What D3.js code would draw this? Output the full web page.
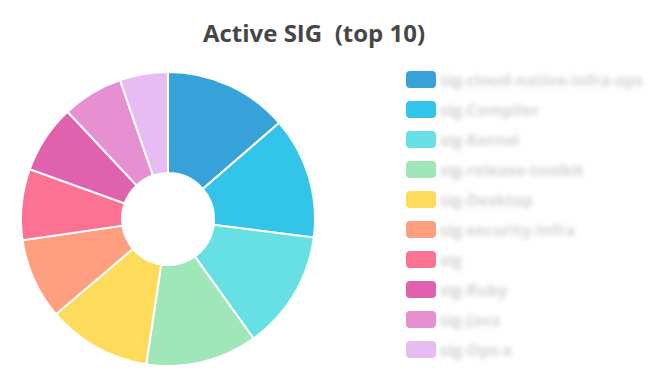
<!DOCTYPE html>
<html>
<head>
<meta charset="utf-8">
<script src="https://cdn.jsdelivr.net/npm/d3@7"></script>
<style>
  html, body { margin: 0; padding: 0; background: #fff; }
  svg { display: block; }
</style>
</head>
<body>
<svg id="chart" width="652" height="385"></svg>
<script>
// values
const labels = ["sig-cloud-native-infra-ops", "sig-Compiler", "sig-Kernel", "sig-release-toolkit", "sig-Desktop", "sig-security-infra", "sig", "sig-Ruby", "sig-Java", "sig-Ops-x"];
const values = [49, 48, 47, 44, 41, 32, 28, 27, 24, 19];
const colors = ["#37a2da", "#32c5e9", "#67e0e3", "#9fe6b8", "#ffdb5c", "#ff9f7f", "#fb7293", "#e062ae", "#e690d1", "#e7bcf3"];
const title  = "Active SIG  (top 10)";

const main = function() {
  const svg = d3.select("#chart");
  const data = labels.map((name, i) => ({name, value: values[i], color: colors[i]}));

  svg.append("defs").append("filter")
    .attr("id", "blur")
    .attr("x", "-20%").attr("y", "-60%")
    .attr("width", "140%").attr("height", "220%")
    .append("feGaussianBlur")
    .attr("stdDeviation", 2.6);

  //title
  svg.append("text")
    .attr("x", 314)
    .attr("y", 42)
    .attr("text-anchor", "middle")
    .style("font-family", "'Open Sans', 'Noto Sans', sans-serif")
    .style("font-weight", "bold")
    .style("font-size", "24px")
    .style("fill", "#464646")
    .style("white-space", "pre")
    .text(title);

  //pie
  const pie = d3.pie().sort(null).value(d => d.value);
  const arc = d3.arc().innerRadius(46).outerRadius(147);

  svg.append("g")
    .attr("transform", "translate(168,219)")
    .selectAll("path")
    .data(pie(data))
    .join("path")
      .attr("d", arc)
      .style("fill", d => d.data.color)
      .style("stroke", "#fff")
      .style("stroke-width", 2);

  //legend
  const y = d3.scaleBand()
    .domain(labels)
    .range([71, 371])
    .paddingInner(0);

  const items = svg.append("g")
    .selectAll("g")
    .data(data)
    .join("g")
      .attr("transform", d => `translate(406,${y(d.name)})`);

  items.append("rect")
    .attr("width", 30)
    .attr("height", 17)
    .attr("rx", 4)
    .style("fill", d => d.color);

  items.append("text")
    .attr("x", 34)
    .attr("y", 15)
    .attr("filter", "url(#blur)")
    .style("font-family", "'Open Sans', sans-serif")
    .style("font-weight", "bold")
    .style("font-size", "16px")
    .style("fill", "#d2d2d2")
    .text(d => d.name);
}();
</script>
</body>
</html>
